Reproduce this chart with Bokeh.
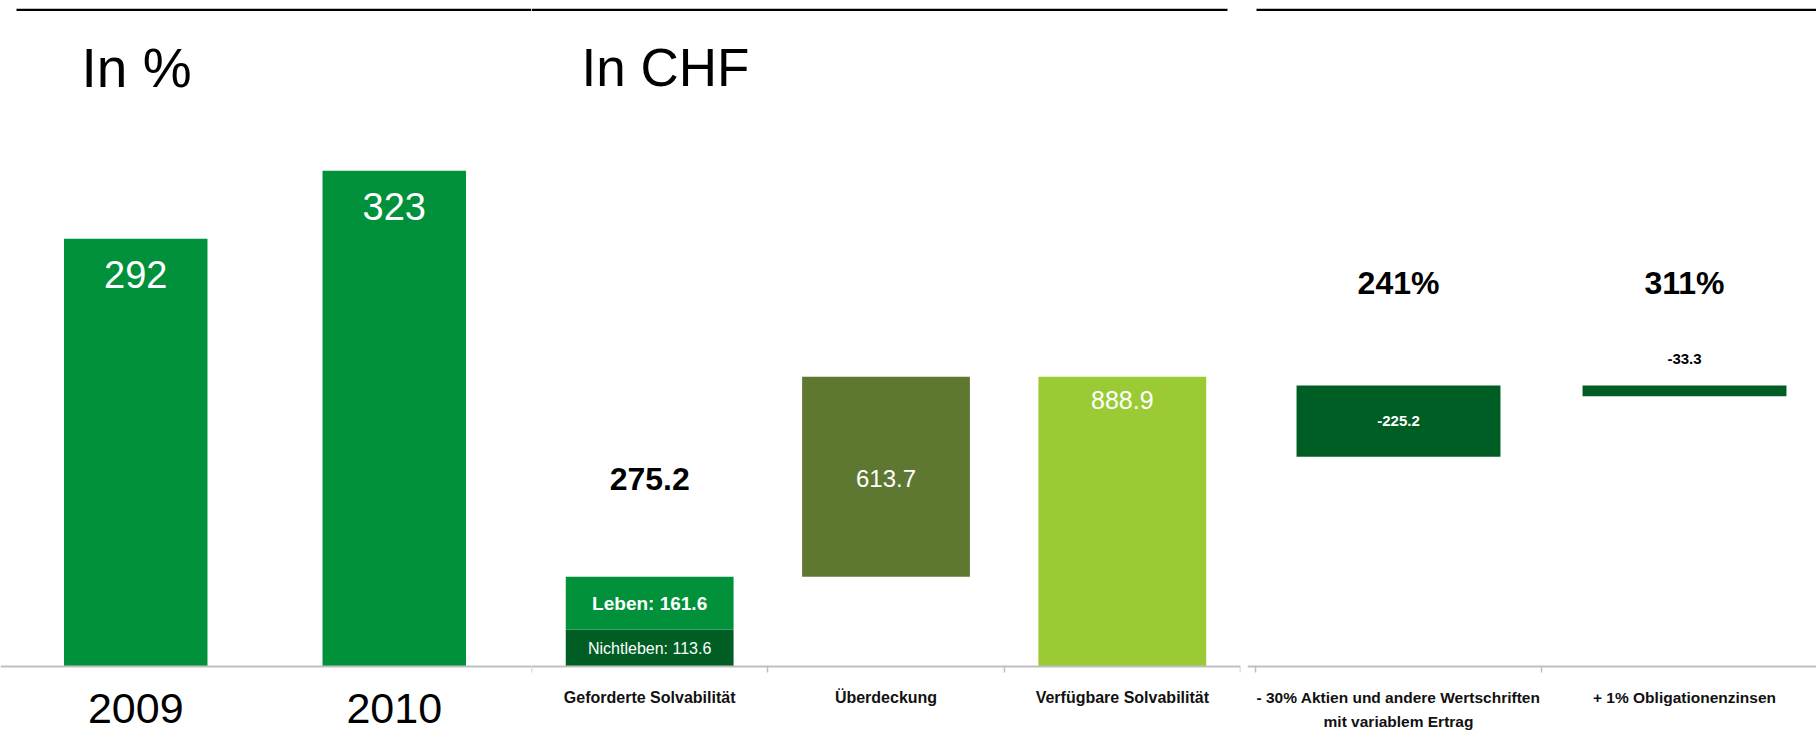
from bokeh.plotting import figure
from bokeh.layouts import row
from bokeh.models import ColumnDataSource, LinearAxis, FixedTicker, Range1d, Label, BoxAnnotation
from bokeh.core.properties import value
from bokeh.embed import file_html
from bokeh.resources import INLINE

# ---------------- data ----------------
YEARS = ["2009", "2010"]
SOLV_RATIO = [292, 323]              # in %
RATIO_AXIS_MIN = 97                  # value axis of first panel does not start at 0

CHF_CATS = ["Geforderte Solvabilität", "Überdeckung", "Verfügbare Solvabilität"]
LEBEN = 161.6
NICHTLEBEN = 113.6
GEFORDERT = 275.2
UEBERDECKUNG = 613.7
VERFUEGBAR = 888.9

STRESS_CATS = ["- 30% Aktien und andere Wertschriften\nmit variablem Ertrag",
               "+ 1% Obligationenzinsen"]
STRESS_IMPACT = [-225.2, -33.3]
STRESS_RATIO = [241, 311]

# ---------------- style ----------------
FONT = "Liberation Sans"
GREEN = "#00913A"
DARK_GREEN = "#005E25"
OLIVE = "#5E7832"
LIGHT_GREEN = "#9BCB34"
AXIS_GREY = "#BFBFBF"

FIG_H = 736
FRAME_TOP = 8            # page px of frame top
FRAME_H = FIG_H - FRAME_TOP
BASE_PX = 666            # page px of the category axis line


class Panel:
    def __init__(self, width, frame_left, right_border, xr, base, ppu):
        self.frame_left = frame_left
        self.frame_w = width - right_border
        self.xr = xr
        self.yr = (base - (FRAME_TOP + FRAME_H - BASE_PX) / ppu, base + (BASE_PX - FRAME_TOP) / ppu)
        self.base = base
        p = figure(width=width, height=FIG_H, x_range=Range1d(*xr), y_range=Range1d(*self.yr),
                   output_backend="svg", toolbar_location=None,
                   x_axis_location=None, y_axis_location=None,
                   min_border_left=0, min_border_right=right_border,
                   min_border_top=FRAME_TOP, min_border_bottom=0)
        p.outline_line_color = None
        for g in p.grid:
            g.visible = False
        p.background_fill_color = "white"
        p.border_fill_color = "white"
        self.p = p

    def dx(self, px):
        return self.xr[0] + (px - self.frame_left) / self.frame_w * (self.xr[1] - self.xr[0])

    def dy(self, py):
        return self.yr[1] - (py - FRAME_TOP) / FRAME_H * (self.yr[1] - self.yr[0])

    def top_rule(self, left_px, right_px):
        self.p.add_layout(BoxAnnotation(left=self.dx(left_px), right=self.dx(right_px),
                                        top=self.dy(8.0), bottom=self.dy(10.4),
                                        fill_color="black", fill_alpha=1.0, line_color=None))

    def title(self, text, left_px, mid_px, size="55px"):
        self.p.add_layout(Label(x=self.dx(left_px), y=self.dy(mid_px), text=text,
                                text_font=FONT, text_font_size=size, text_color="black",
                                text_baseline="middle", text_align="left"))

    def cat_axis(self, cats, boundaries, size, style, standoff, color="#111111",
                 ticks=True, line_height=1.2):
        ax = LinearAxis(fixed_location=self.base,
                        ticker=FixedTicker(ticks=[i + 0.5 for i in range(len(cats))],
                                           minor_ticks=boundaries if ticks else []),
                        major_label_overrides={i + 0.5: c for i, c in enumerate(cats)},
                        axis_line_color=AXIS_GREY, axis_line_width=2,
                        major_tick_line_color=None, major_tick_out=0, major_tick_in=0,
                        minor_tick_line_color=AXIS_GREY if ticks else None,
                        minor_tick_line_width=1.5, minor_tick_out=6, minor_tick_in=0,
                        major_label_standoff=standoff, major_label_text_font=FONT,
                        major_label_text_font_size=size, major_label_text_font_style=style,
                        major_label_text_color=color, major_label_text_line_height=line_height)
        self.p.add_layout(ax, "below")


def txt(p, xs, ys, texts, size, color, bold=False, yoff=0):
    p.text(x=xs, y=ys, text=texts, text_font=value(FONT), text_font_size=size,
           text_color=color, text_font_style="bold" if bold else "normal",
           text_align="center", text_baseline="middle", y_offset=yoff)


# ---------------- panel 1 : In % ----------------
P1 = Panel(531, 0, 0, (-6 / 258.5, 525 / 258.5), RATIO_AXIS_MIN, 2.1935)
p1 = P1.p
x1 = [i + 0.5 for i in range(len(YEARS))]
p1.vbar(x=x1, width=0.555, bottom=RATIO_AXIS_MIN, top=SOLV_RATIO, color=GREEN, line_color=None)
txt(p1, x1, SOLV_RATIO, [str(v) for v in SOLV_RATIO], "38px", "black" if False else "white", yoff=36)
P1.cat_axis(YEARS, [], "43px", "normal", 27, color="black", ticks=False)
P1.top_rule(16, 531)
P1.title("In %", 81, 67)

# ---------------- panel 2 : In CHF ----------------
P2 = Panel(716, 531, 7, (0, 3), 0, 0.326)
p2 = P2.p
src2 = ColumnDataSource(dict(
    x=[0.5, 0.5, 1.5, 2.5],
    bottom=[0, NICHTLEBEN, GEFORDERT, 0],
    top=[NICHTLEBEN, NICHTLEBEN + LEBEN, GEFORDERT + UEBERDECKUNG, VERFUEGBAR],
    color=[DARK_GREEN, GREEN, OLIVE, LIGHT_GREEN],
))
p2.vbar(x="x", width=0.71, bottom="bottom", top="top", fill_color="color", line_color=None, source=src2)
mid_over = GEFORDERT + UEBERDECKUNG / 2
txt(p2, [0.5], [mid_over], [f"{GEFORDERT:.1f}"], "32px", "black", bold=True, yoff=2)
txt(p2, [1.5], [mid_over], [f"{UEBERDECKUNG:.1f}"], "24px", "white", yoff=2)
txt(p2, [2.5], [VERFUEGBAR], [f"{VERFUEGBAR:.1f}"], "25px", "white", yoff=23)
txt(p2, [0.5], [NICHTLEBEN + LEBEN / 2], [f"Leben: {LEBEN:.1f}"], "19px", "white", bold=True, yoff=0)
txt(p2, [0.5], [NICHTLEBEN / 2], [f"Nichtleben: {NICHTLEBEN:.1f}"], "16px", "white", yoff=1)
P2.cat_axis(CHF_CATS, [0, 1, 2, 3], "16px", "bold", 16)
P2.top_rule(531, 1227)
P2.title("In CHF", 581, 67, size="53px")

# ---------------- panel 3 : stress tests ----------------
P3 = Panel(569, 1247, 0, (-8 / 286, 561 / 286), 0, 0.316)
p3 = P3.p
x3 = [i + 0.5 for i in range(len(STRESS_CATS))]
p3.vbar(x=x3, width=0.713, top=VERFUEGBAR, bottom=[VERFUEGBAR + v for v in STRESS_IMPACT],
        color=DARK_GREEN, line_color=None)
for xi, v in zip(x3, STRESS_IMPACT):
    if abs(v) >= 100:
        txt(p3, [xi], [VERFUEGBAR + v / 2], [f"{v:.1f}"], "15px", "white", bold=True, yoff=0)
    else:
        txt(p3, [xi], [VERFUEGBAR], [f"{v:.1f}"], "15px", "black", bold=True, yoff=-27)
txt(p3, x3, [VERFUEGBAR] * len(x3), [f"{r}%" for r in STRESS_RATIO], "32px", "black", bold=True, yoff=-103)
P3.cat_axis(STRESS_CATS, [0, 1, 2], "15.5px", "bold", 16, line_height=1.45)
P3.top_rule(1256, 1816)

layout = row(p1, p2, p3)
open("out.html", "w").write(file_html(layout, INLINE))
